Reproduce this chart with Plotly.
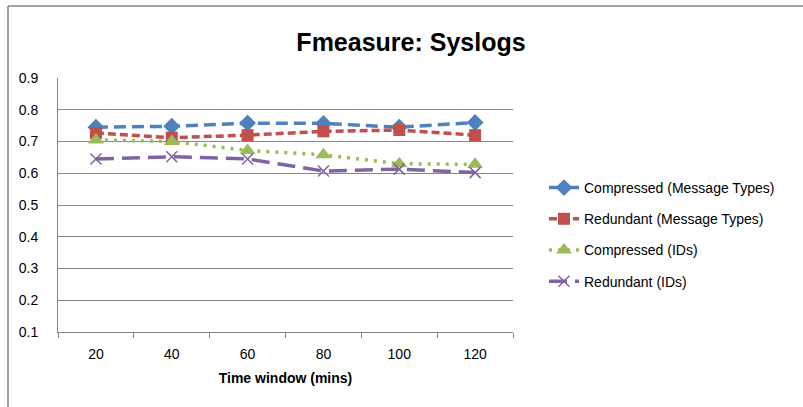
import plotly.graph_objects as go

categories = ["20", "40", "60", "80", "100", "120"]
compressed_mt = [0.745, 0.748, 0.758, 0.757, 0.745, 0.760]
redundant_mt = [0.727, 0.712, 0.720, 0.732, 0.736, 0.720]
compressed_ids = [0.705, 0.700, 0.672, 0.658, 0.630, 0.628]
redundant_ids = [0.645, 0.652, 0.645, 0.607, 0.613, 0.602]
y_ticks = [0.1, 0.2, 0.3, 0.4, 0.5, 0.6, 0.7, 0.8, 0.9]

FONT = "Liberation Sans, Arial, sans-serif"

series = [
    ("Compressed (Message Types)", compressed_mt, "#4F81BD", "12px,6px", "diamond", 13, None),
    ("Redundant (Message Types)", redundant_mt, "#C0504D", "8px,4px", "square", 12, None),
    ("Compressed (IDs)", compressed_ids, "#9BBB59", "3px,6px", "triangle-up", 14, None),
    ("Redundant (IDs)", redundant_ids, "#8064A2", "18px,8px", "x-thin", 11, 1.5),
]

fig = go.Figure()
for i, (name, vals, color, dash, sym, size, lw) in enumerate(series):
    marker = dict(symbol=sym, size=size, color=color)
    if lw:
        marker["line"] = dict(color=color, width=lw)
    fig.add_trace(go.Scatter(
        x=categories, y=vals, name=name, mode="lines+markers",
        line=dict(color=color, width=3.5, dash=dash),
        marker=marker, legendgroup=f"g{i}",
    ))

PW, PH = 455, 254
fig.update_layout(
    width=803, height=407,
    margin=dict(l=58, r=290, t=78, b=75),
    paper_bgcolor="white", plot_bgcolor="white",
    font=dict(family=FONT, size=13, color="#000000"),
    title=dict(text="<b>Fmeasure: Syslogs</b>", x=411/803, xanchor="center",
               y=1 - 42/407, yanchor="middle",
               font=dict(family=FONT, size=25, color="#000000")),
    legend=dict(x=(544-58)/PW, y=1 - (172-78)/PH, yanchor="top", xanchor="left",
                font=dict(family=FONT, size=14), tracegroupgap=10,
                traceorder="grouped", bgcolor="rgba(0,0,0,0)"),
    showlegend=True,
)
fig.update_xaxes(
    type="category", range=[-0.5, 5.5], tickson="boundaries",
    ticks="outside", ticklen=5, tickcolor="#868686",
    showline=True, linecolor="#868686", linewidth=1,
    showgrid=False, tickfont=dict(size=14), ticklabelstandoff=9,
    title=dict(text="<b>Time window (mins)</b>", font=dict(size=14), standoff=12),
)
fig.update_yaxes(
    range=[0.1, 0.9], tickvals=y_ticks, ticktext=[f"{v:.1f}" for v in y_ticks],
    ticks="", ticklabelstandoff=16,
    showline=True, linecolor="#868686", linewidth=1,
    showgrid=True, gridcolor="#868686", gridwidth=1,
    zeroline=False, tickfont=dict(size=14),
)
# chart frame (top and left edges)
fig.add_shape(type="line", xref="paper", yref="paper",
              x0=-50/PW, x1=(803-58)/PW, y0=1 + 72/PH, y1=1 + 72/PH,
              line=dict(color="#868686", width=1.5))
fig.add_shape(type="line", xref="paper", yref="paper",
              x0=-50/PW, x1=-50/PW, y0=1 + 72/PH, y1=-80/PH,
              line=dict(color="#868686", width=1.5))

fig.write_html("out.html")
